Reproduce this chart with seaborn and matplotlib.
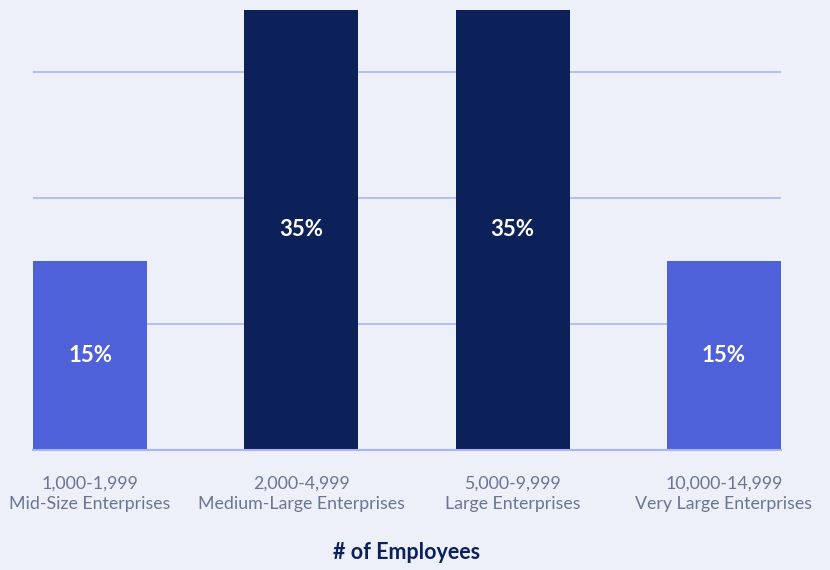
import matplotlib
matplotlib.use("Agg")
import matplotlib.pyplot as plt
import seaborn as sns
import pandas as pd

categories = ["1,000-1,999\nMid-Size Enterprises",
              "2,000-4,999\nMedium-Large Enterprises",
              "5,000-9,999\nLarge Enterprises",
              "10,000-14,999\nVery Large Enterprises"]
values = [15, 35, 35, 15]
value_labels = ["15%", "35%", "35%", "15%"]
bar_colors = ["#4f61d9", "#0c215a", "#0c215a", "#4f61d9"]
grid_ticks = [0, 10, 20, 30]

BG = "#edf0f8"
GRID = "#aab4f5"
TICK_COLOR = "#6b7591"
NAVY = "#0c215a"

sns.set_theme(style="white")
plt.rcParams["font.family"] = ["Lato", "DejaVu Sans"]

df = pd.DataFrame({"cat": categories, "val": values})

fig = plt.figure(figsize=(8.3, 5.7), dpi=100, facecolor=BG)
W, H = 830, 570
ax = fig.add_axes([33 / W, (H - 449.5) / H, (781 - 33) / W, (449.5 - 7) / H])
ax.set_facecolor(BG)

sns.barplot(data=df, x="cat", y="val", hue="cat", palette=bar_colors,
            width=0.54, legend=False, saturation=1, linewidth=0,
            ax=ax, zorder=2)

ax.set_xlim(-0.27, 3.27)
ax.set_ylim(0, 35.2)
ax.set_yticks(grid_ticks)
ax.yaxis.grid(True, color=GRID, linewidth=1.2, zorder=0)
ax.set_axisbelow(True)
ax.tick_params(axis="y", left=False, labelleft=False)
ax.tick_params(axis="x", bottom=False, pad=13, labelsize=12.8, labelcolor=TICK_COLOR)
for lab in ax.get_xticklabels():
    lab.set_linespacing(1.3)
for s in ["top", "left", "right"]:
    ax.spines[s].set_visible(False)
ax.spines["bottom"].set_color(GRID)
ax.spines["bottom"].set_linewidth(1.5)
ax.spines["bottom"].set_zorder(3)

for i, (v, t) in enumerate(zip(values, value_labels)):
    ax.text(i, v / 2, t, ha="center", va="center", color="white",
            fontsize=16, fontweight="bold", zorder=4)

ax.set_xlabel("# of Employees", fontsize=15.5, fontweight="bold", color=NAVY, labelpad=22)
ax.set_ylabel("")

fig.savefig("out.png", dpi=100, facecolor=BG)
